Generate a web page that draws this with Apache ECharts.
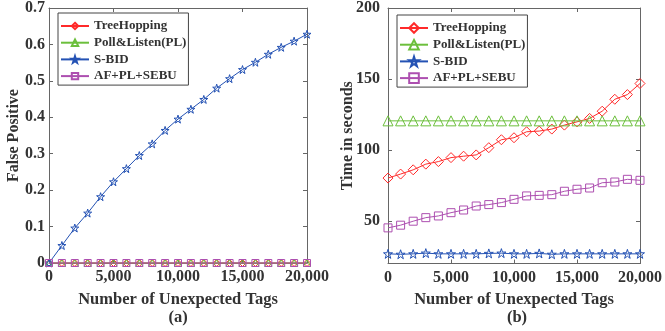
<!DOCTYPE html>
<html>
<head>
<meta charset="utf-8">
<script src="https://cdn.jsdelivr.net/npm/echarts@6/dist/echarts.min.js"></script>
<style>html,body{margin:0;padding:0;background:#fff}#c{width:665px;height:331px}</style>
</head>
<body>
<div id="c"></div>
<script>
const tags = [0,1000,2000,3000,4000,5000,6000,7000,8000,9000,10000,11000,12000,13000,14000,15000,16000,17000,18000,19000,20000];
const seriesNames = ['TreeHopping','Poll&Listen(PL)','S-BID','AF+PL+SEBU'];
// (a) False positive
const fpTree = [0,0,0,0,0,0,0,0,0,0,0,0,0,0,0,0,0,0,0,0,0];
const fpPL   = [0,0,0,0,0,0,0,0,0,0,0,0,0,0,0,0,0,0,0,0,0];
const fpSBID = [0,0.048,0.096,0.137,0.182,0.223,0.259,0.295,0.327,0.364,0.395,0.422,0.449,0.48,0.506,0.531,0.551,0.573,0.592,0.609,0.628];
const fpAF   = [0,0,0,0,0,0,0,0,0,0,0,0,0,0,0,0,0,0,0,0,0];
// (b) Time in seconds
const tTree = [80.2,83,86,90,91.8,94.6,95.6,96.5,101.6,107.2,108.6,112.8,113.3,114.7,117.5,119.8,122.2,127.3,135.7,139,146.8];
const tPL   = [120.5,120.5,120.5,120.5,120.5,120.5,120.5,120.5,120.5,120.5,120.5,120.5,120.5,120.5,120.5,120.5,120.5,120.5,120.5,120.5,120.5];
const tSBID = [26.8,26.5,26.8,27.3,26.8,26.8,26.8,26.8,27.1,27.3,26.8,26.8,27.1,26.5,26.8,26.8,26.8,26.8,26.8,26.8,26.8];
const tAF   = [45.1,47,49.8,52.3,53.5,55.8,57.7,60.5,61.5,62.9,65.2,67.6,68,68.5,70.9,72.3,73.2,76.9,77.4,79.3,78.6];
const xTicks = [0,5000,10000,15000,20000];
const yTicksA = [0,0.1,0.2,0.3,0.4,0.5,0.6,0.7];
const yTicksB = [50,100,150,200];

const FONT = 'Liberation Serif';
const TXT = '#333';
const AX = '#666';
const colors = ['#ff2a2a','#6cbf3c','#2452b4','#ad4fb0'];
const STAR = 'path://M100,0 L122.45,69.1 L195.1,69.1 L136.3,111.8 L158.8,180.9 L100,138.2 L41.2,180.9 L63.7,111.8 L4.9,69.1 L77.55,69.1 Z';
const symbols = ['diamond','triangle',STAR,'rect'];

function pairs(ys){ return tags.map((x,i)=>[x,ys[i]]); }
const fmtX = v => Number(v).toLocaleString('en-US');

function xAx(grid, pos, showLabel, name){
  return {
    gridIndex: grid, type:'value', min:0, max:20000, interval:5000, position:pos,
    axisLine:{show:true, onZero:false, lineStyle:{color:AX, width:1}},
    axisTick:{show:true, inside:true, length:4, lineStyle:{color:AX}},
    axisLabel:{show:showLabel, formatter:fmtX, margin:6, color:TXT, fontFamily:FONT, fontWeight:'bold', fontSize:16},
    splitLine:{show:false},
    name: name || '', nameLocation:'middle', nameGap:28, nameMoveOverlap:false,
    nameTextStyle:{color:TXT, fontFamily:FONT, fontWeight:'bold', fontSize:16.5}
  };
}
function yAx(grid, pos, showLabel, cfg, name, gap, margin){
  return Object.assign({
    gridIndex: grid, type:'value', position:pos,
    axisLine:{show:true, onZero:false, lineStyle:{color:AX, width:1}},
    axisTick:{show:true, inside:true, length:4, lineStyle:{color:AX}},
    axisLabel:{show:showLabel, margin:margin, color:TXT, fontFamily:FONT, fontWeight:'bold', fontSize:16},
    splitLine:{show:false},
    name: name || '', nameLocation:'middle', nameGap:gap, nameMoveOverlap:false,
    nameTextStyle:{color:TXT, fontFamily:FONT, fontWeight:'bold', fontSize:16}
  }, cfg);
}

const yCfgA = {min:0, max:0.7, interval:0.1};
const yCfgB = {min:20, max:200};
const yAxes = [
  yAx(0,'left',true,yCfgA,'False Positive',27,4),
  yAx(0,'right',false,yCfgA,'',0,4),
  yAx(1,'left',true,yCfgB,'Time in seconds',32,8),
  yAx(1,'right',false,yCfgB,'',0,8)
];
yAxes[2].axisLabel.customValues = yTicksB;
yAxes[2].axisTick.customValues = yTicksB;
yAxes[3].axisLabel.customValues = yTicksB;
yAxes[3].axisTick.customValues = yTicksB;

function mkSeries(grid, name, idx, ys, size){
  return {
    type:'line', name:name, xAxisIndex: grid*2, yAxisIndex: grid*2,
    data: pairs(ys), symbol: symbols[idx], symbolSize: size, showSymbol:true,
    clip:false,
    lineStyle:{color:colors[idx], width:1},
    itemStyle:{color:'rgba(255,255,255,0)', borderColor:colors[idx], borderWidth:1},
    emphasis:{disabled:true},
    z: 2+idx
  };
}
const sizesA = [7,7,8,7];
const sizesB = [10,10,9,8];
const dataA = [fpTree, fpPL, fpSBID, fpAF];
const dataB = [tTree, tPL, tSBID, tAF];
const series = [];
seriesNames.forEach((n,i)=>series.push(mkSeries(0,n,i,dataA[i],sizesA[i])));
seriesNames.forEach((n,i)=>series.push(mkSeries(1,n,i,dataB[i],sizesB[i])));

function legend(left, top, ih){
  return {
    orient:'vertical', left:left, top:top, data:seriesNames,
    itemWidth:28, itemHeight:ih, itemGap:2.7,
    padding:[6,2,2,2],
    borderColor:'#444', borderWidth:1, backgroundColor:'#fff',
    selectedMode:false,
    textStyle:{color:TXT, fontFamily:FONT, fontWeight:'bold', fontSize:13, lineHeight:14}
  };
}

const option = {
  animation:false,
  backgroundColor:'#fff',
  title:[
    {text:'(a)', left:178, top:309, textAlign:'center', padding:0, textStyle:{color:TXT, fontFamily:FONT, fontWeight:'bold', fontSize:16.5}},
    {text:'(b)', left:517, top:309, textAlign:'center', padding:0, textStyle:{color:TXT, fontFamily:FONT, fontWeight:'bold', fontSize:16.5}}
  ],
  grid:[
    {left:49, top:6, width:258, height:257},
    {left:388, top:6, width:259, height:257.5}
  ],
  legend:[ legend(58,13,8), legend(397,15,12) ],
  xAxis:[ xAx(0,'bottom',true,'Number of Unexpected Tags'), xAx(0,'top',false), xAx(1,'bottom',true,'Number of Unexpected Tags'), xAx(1,'top',false) ],
  yAxis: yAxes,
  series: series
};
const chart = echarts.init(document.getElementById('c'), null, {renderer:'canvas'});
chart.setOption(option);
</script>
</body>
</html>
